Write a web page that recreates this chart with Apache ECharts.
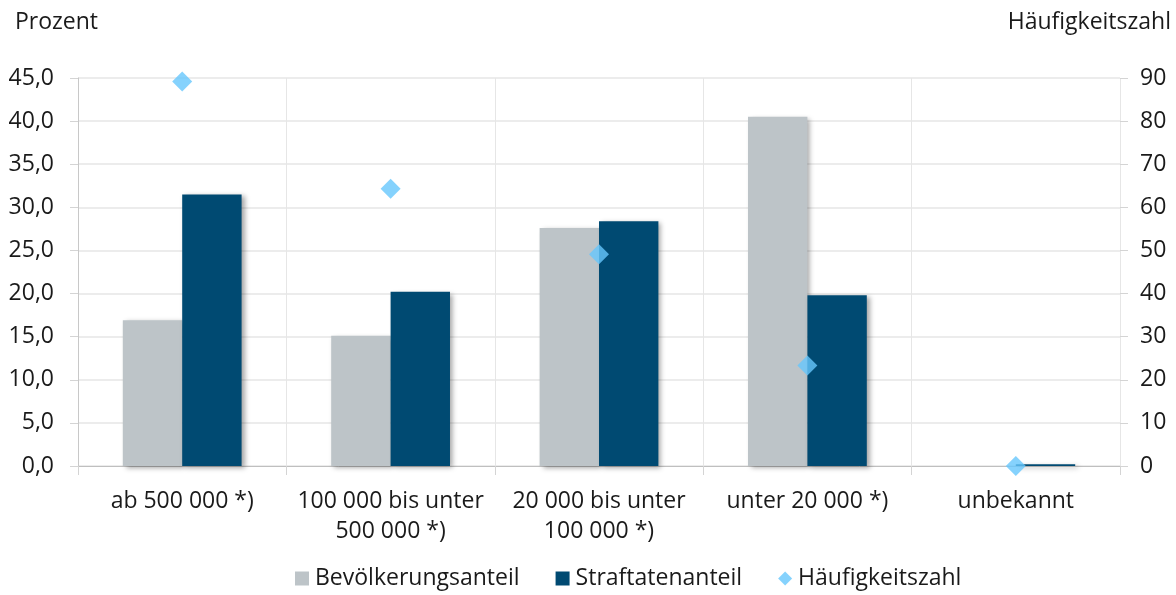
<!DOCTYPE html>
<html>
<head>
<meta charset="utf-8">
<script src="https://cdn.jsdelivr.net/npm/echarts@6/dist/echarts.min.js"></script>
<style>
  html, body { margin: 0; padding: 0; background: #fff; }
  #chart { width: 1176px; height: 595px; }
</style>
</head>
<body>
<div id="chart"></div>
<script>
// Gemeindegrößenklassen
const categories = ['ab 500 000 *)', '100 000 bis unter\n500 000 *)', '20 000 bis unter\n100 000 *)', 'unter 20 000 *)', 'unbekannt'];
// Anteile in Prozent (linke Achse)
const bevoelkerungsanteil = [16.9, 15.1, 27.6, 40.5, 0];
const straftatenanteil = [31.5, 20.2, 28.4, 19.8, 0.2];
// Häufigkeitszahl (rechte Achse)
const haeufigkeitszahl = [89.2, 64.3, 49.1, 23.3, 0];

const FONT = '"Open Sans", sans-serif';
const FS = 23;
const TEXT = '#1a1a1a';
const GRID = '#e6e6e6';

const barShadow = {
  shadowColor: 'rgba(0,0,0,0.35)',
  shadowBlur: 5,
  shadowOffsetX: 3,
  shadowOffsetY: 2
};

const chart = echarts.init(document.getElementById('chart'));
chart.setOption({
  animation: false,
  textStyle: { fontFamily: FONT, color: TEXT },
  grid: { left: 78, right: 56, top: 78, bottom: 129 },
  legend: {
    bottom: 0,
    left: 290,
    itemWidth: 14,
    itemHeight: 14,
    itemGap: 36,
    textStyle: { fontFamily: FONT, fontSize: FS, color: TEXT, padding: [0, 0, 0, 1] },
    data: [
      { name: 'Bevölkerungsanteil', icon: 'rect' },
      { name: 'Straftatenanteil', icon: 'rect' },
      { name: 'Häufigkeitszahl', icon: 'diamond' }
    ]
  },
  graphic: [
    { type: 'text', left: 15, top: 11, style: { text: 'Prozent', font: FS + 'px ' + FONT, fill: TEXT } },
    { type: 'text', right: 5, top: 11, style: { text: 'Häufigkeitszahl', font: FS + 'px ' + FONT, fill: TEXT } }
  ],
  xAxis: {
    type: 'category',
    data: categories,
    axisLine: { lineStyle: { color: '#bfbfbf', width: 1 } },
    axisTick: { show: true, length: 9, lineStyle: { color: '#d4d4d4' } },
    splitLine: { show: true, lineStyle: { color: GRID } },
    axisLabel: { fontFamily: FONT, fontSize: FS, color: TEXT, margin: 20, lineHeight: 30, interval: 0 }
  },
  yAxis: [
    {
      type: 'value',
      min: 0, max: 45, interval: 5,
      axisLine: { show: true, lineStyle: { color: '#c8c8c8' } },
      axisTick: { show: true, length: 8, lineStyle: { color: '#d4d4d4' } },
      splitLine: { lineStyle: { color: GRID, width: 1.5 } },
      axisLabel: {
        fontFamily: FONT, fontSize: FS, color: TEXT, margin: 24,
        formatter: v => v.toFixed(1).replace('.', ',')
      }
    },
    {
      type: 'value',
      min: 0, max: 90, interval: 10,
      axisLine: { show: false },
      axisTick: { show: true, length: 8, lineStyle: { color: '#d4d4d4' } },
      splitLine: { show: false },
      axisLabel: { fontFamily: FONT, fontSize: FS, color: TEXT, margin: 20 }
    }
  ],
  series: [
    {
      name: 'Bevölkerungsanteil',
      type: 'bar',
      data: bevoelkerungsanteil,
      barGap: '0%',
      barCategoryGap: '43%',
      itemStyle: Object.assign({ color: '#bdc4c8' }, barShadow)
    },
    {
      name: 'Straftatenanteil',
      type: 'bar',
      data: straftatenanteil,
      itemStyle: Object.assign({ color: '#004a72' }, barShadow)
    },
    {
      name: 'Häufigkeitszahl',
      type: 'scatter',
      yAxisIndex: 1,
      data: haeufigkeitszahl,
      symbol: 'diamond',
      symbolSize: [20, 20],
      itemStyle: { color: '#66c7fc' },
      z: 5
    }
  ]
});
</script>
</body>
</html>
